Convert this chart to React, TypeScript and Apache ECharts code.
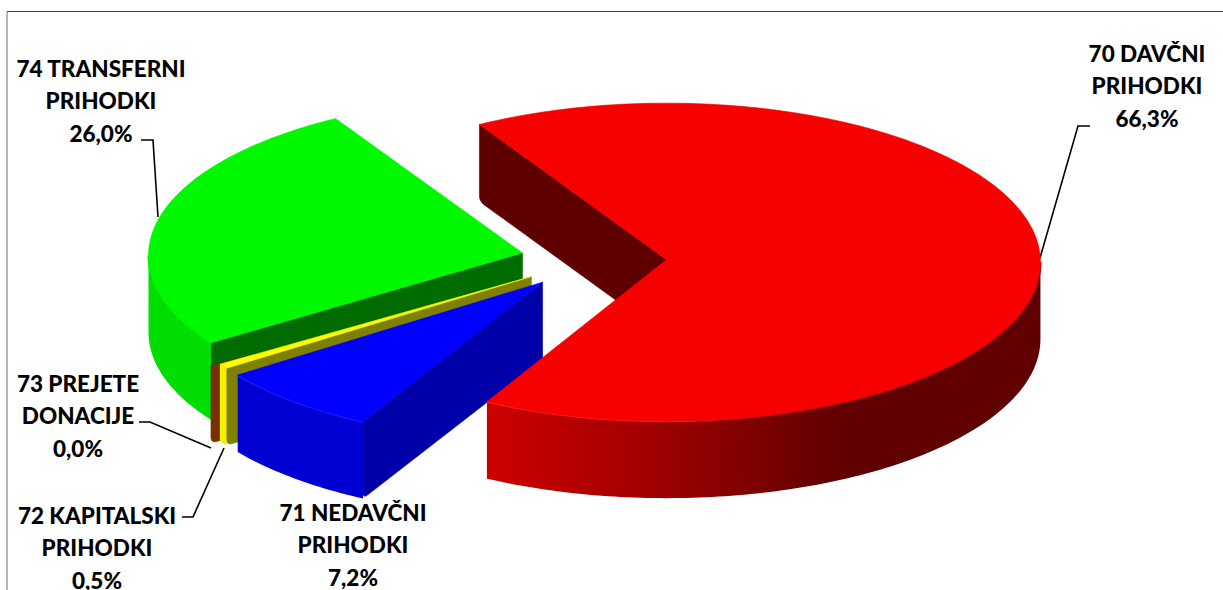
import React, { useEffect, useRef } from "react";
import * as echarts from "echarts";

const categories = [
  ["70 DAVČNI", "PRIHODKI"],
  ["71 NEDAVČNI", "PRIHODKI"],
  ["72 KAPITALSKI", "PRIHODKI"],
  ["73 PREJETE", "DONACIJE"],
  ["74 TRANSFERNI", "PRIHODKI"],
];
const shares = [66.3, 7.2, 0.5, 0.0, 26.0];

const FONT = "Lato, Carlito, Calibri, sans-serif";
const START_ANGLE = 330;
const CX = 593;
const CY = 260;
const RX = 374;
const RY = 159;
const ELLIPSE_DROP = 2.5;
const DEPTH = 77;

const explode = [0.195, 0.195, 0.195, 0.22, 0.195];
const sliceRy = [159, 156, 154, 154, 158];
const sliceShift = [
  [0.5, 0],
  [-2, -1],
  [-1.5, -1],
  [-2, -1],
  [0.5, 0],
];
const topColors = ["#f70000", "#0000ff", "#ffff00", "#8a3800", "#00f800"];
const cutColors = ["#5e0000", "#0000a8", "#808000", "#7c3000", "#006c00"];
const drawOrder = [4, 3, 2, 1, 0];
const labelPos = [
  [1147, 53],
  [353, 512],
  [97, 515],
  [78, 383],
  [101, 68],
];
const leaders = [
  [[1040, 258], [1078, 126], [1090, 126]],
  [[224, 448], [193, 517], [182, 517]],
  [[211, 448], [150, 422], [139, 422]],
  [[158, 217], [153, 140], [141, 140]],
];

const rad = (d: number) => (d * Math.PI) / 180;

function sliceAngles() {
  let acc = START_ANGLE;
  return shares.map((s) => {
    const a = acc;
    acc += (s / 100) * 360;
    return [a, acc];
  });
}

function sideFill(i: number) {
  const L = echarts.graphic.LinearGradient;
  if (i === 0)
    return new L(0, 0, 1, 0, [
      { offset: 0, color: "#cc0000" },
      { offset: 0.3, color: "#a00000" },
      { offset: 0.64, color: "#600000" },
      { offset: 1, color: "#600000" },
    ]);
  if (i === 1) return "#0000d2";
  if (i === 2) return "#f2f200";
  if (i === 3) return "#7c3000";
  return "#00dd00";
}

function rimStroke(i: number) {
  const L = echarts.graphic.LinearGradient;
  if (i === 0)
    return new L(0, 0, 1, 0, [
      { offset: 0, color: "#ff2a2a" },
      { offset: 0.35, color: "#ff2020" },
      { offset: 0.55, color: "#b00000" },
      { offset: 1, color: "#8c0000" },
    ]);
  if (i === 1) return "#2a2aff";
  if (i === 4) return "#00ec00";
  return null;
}

function renderSlice(_params: any, api: any) {
  const i = api.value(0);
  const [t1, t2] = sliceAngles()[i];
  const mid = (t1 + t2) / 2;
  const f = explode[i];
  const ox = CX + sliceShift[i][0] + f * RX * Math.sin(rad(mid));
  const oy = CY + sliceShift[i][1] - f * RY * Math.cos(rad(mid));
  const P = (t: number, dz = 0) => [
    ox + RX * Math.sin(rad(t)),
    oy + ELLIPSE_DROP - sliceRy[i] * Math.cos(rad(t)) + dz,
  ];
  const arc = (a: number, b: number, dz = 0) => {
    const pts: number[][] = [];
    for (let t = a; t < b; t += 1) pts.push(P(t, dz));
    pts.push(P(b, dz));
    return pts;
  };
  const children: any[] = [];

  const cutFace = (t: number) => {
    const rim = P(t);
    const full = i === 3 ? 0.12 : 1;
    const ux = ox - rim[0];
    const uy = oy - rim[1];
    const len = Math.hypot(ux, uy);
    const ex = rim[0] + ux * full;
    const ey = rim[1] + uy * full;
    const r = 6;
    const px = rim[0] + (ux / len) * r;
    const py = rim[1] + (uy / len) * r + DEPTH;
    const corner: number[][] = [];
    for (let k = 0; k <= 6; k++) {
      const s = k / 6;
      const ax = rim[0];
      const ay = rim[1] + DEPTH - r;
      const cx = rim[0];
      const cy = rim[1] + DEPTH;
      corner.push([
        (1 - s) * (1 - s) * ax + 2 * s * (1 - s) * cx + s * s * px,
        (1 - s) * (1 - s) * ay + 2 * s * (1 - s) * cy + s * s * py,
      ]);
    }
    children.push({
      type: "polygon",
      shape: { points: [rim, ...corner, [ex, ey + DEPTH], [ex, ey]] },
      style: { fill: cutColors[i], stroke: cutColors[i], lineWidth: 0.6 },
    });
  };
  if (Math.sin(rad(t1)) < 0) cutFace(t1);
  if (t2 > t1 + 0.01 && Math.sin(rad(t2)) > 0) cutFace(t2);

  for (const k of [0, 360]) {
    const a = Math.max(t1, 90 + k);
    const b = Math.min(t2, 270 + k);
    if (b > a) {
      const upper = arc(a, b);
      const lower = arc(a, b, DEPTH).reverse();
      children.push({
        type: "polygon",
        shape: { points: [...upper, ...lower] },
        style: { fill: sideFill(i) },
      });
      const stroke = rimStroke(i);
      if (stroke) {
        children.push({
          type: "polyline",
          shape: { points: upper },
          style: { stroke, lineWidth: 2, fill: "none" },
        });
      }
    }
  }

  if (t2 > t1 + 0.01) {
    children.push({
      type: "polygon",
      shape: { points: [[ox, oy], ...arc(t1, t2)] },
      style: { fill: topColors[i], stroke: topColors[i], lineWidth: 0.6 },
    });
  }
  return { type: "group", children };
}

const labelText = (i: number) =>
  [...categories[i], shares[i].toFixed(1).replace(".", ",") + "%"].join("\n");

export default function App() {
  const ref = useRef<HTMLDivElement>(null);
  useEffect(() => {
    const chart = echarts.init(ref.current!, undefined, { renderer: "svg" });
    chart.setOption({
      animation: false,
      backgroundColor: "#ffffff",
      series: [
        {
          type: "custom",
          coordinateSystem: "none",
          renderItem: renderSlice,
          data: drawOrder.map((i) => [i, shares[i]]),
          silent: true,
        },
      ],
      graphic: [
        {
          type: "line",
          shape: { x1: 7, y1: 11.5, x2: 1223, y2: 11.5 },
          style: { stroke: "#404040", lineWidth: 1 },
        },
        {
          type: "line",
          shape: { x1: 7, y1: 11.5, x2: 7, y2: 590 },
          style: { stroke: "#707070", lineWidth: 1 },
        },
        ...leaders.map((points) => ({
          type: "polyline",
          shape: { points },
          style: { stroke: "#000000", lineWidth: 1.6, fill: "none" },
        })),
        ...categories.map((_, i) => ({
          type: "text",
          x: labelPos[i][0],
          y: labelPos[i][1] - 16,
          style: {
            text: labelText(i),
            fill: "#000000",
            font: `900 22.5px ${FONT}`,
            lineHeight: 32.5,
            align: "center",
            verticalAlign: "top",
          },
        })),
      ],
    });
    return () => chart.dispose();
  }, []);
  return (
    <div
      ref={ref}
      style={{ position: "fixed", left: 0, top: 0, width: 1223, height: 590, overflow: "hidden", background: "#fff" }}
    />
  );
}
